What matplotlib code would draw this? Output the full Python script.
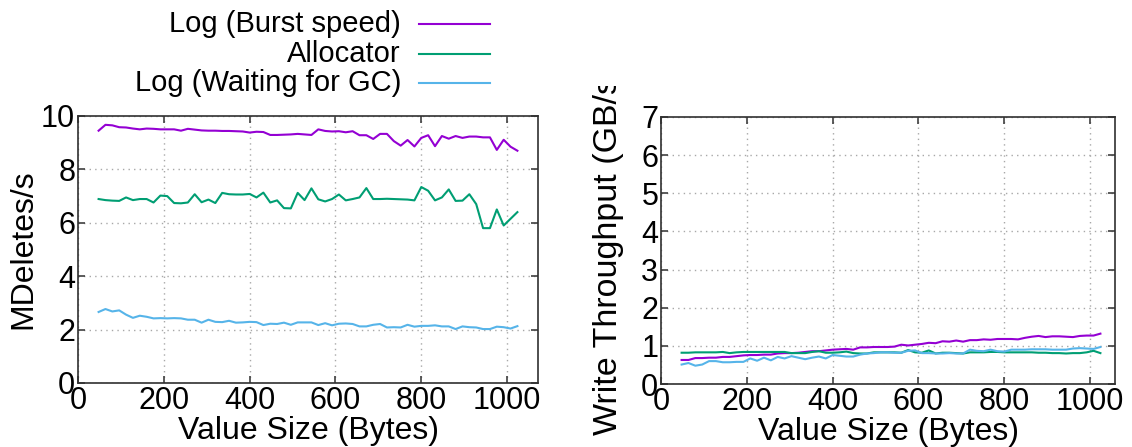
import matplotlib
matplotlib.use('Agg')
import matplotlib.pyplot as plt
from matplotlib.lines import Line2D
from matplotlib.transforms import Bbox, TransformedBbox

plt.rcParams['font.family'] = ['Liberation Sans', 'DejaVu Sans']

# value sizes in bytes
value_size = [48, 64, 80, 96, 112, 128, 144, 160, 176, 192, 208, 224, 240, 256, 272, 288,
              304, 320, 336, 352, 368, 384, 400, 416, 432, 448, 464, 480, 496, 512, 528, 544,
              560, 576, 592, 608, 624, 640, 656, 672, 688, 704, 720, 736, 752, 768, 784, 800,
              816, 832, 848, 864, 880, 896, 912, 928, 944, 960, 976, 992, 1008, 1024]

labels = ['Log (Burst speed)', 'Allocator', 'Log (Waiting for GC)']
colors = ['#9400d3', '#009e73', '#56b4e9']

# MDeletes/s
deletes_burst = [9.45, 9.67, 9.65, 9.58, 9.57, 9.53, 9.50, 9.53, 9.52, 9.50, 9.50, 9.50,
                 9.45, 9.52, 9.49, 9.46, 9.45, 9.45, 9.44, 9.44, 9.43, 9.42, 9.38, 9.41,
                 9.40, 9.29, 9.29, 9.30, 9.31, 9.33, 9.31, 9.29, 9.50, 9.44, 9.42, 9.43,
                 9.39, 9.43, 9.28, 9.28, 9.14, 9.33, 9.33, 9.06, 8.89, 9.10, 8.86, 9.18,
                 9.28, 8.87, 9.25, 9.15, 9.25, 9.18, 9.23, 9.23, 9.20, 9.20, 8.73, 9.11,
                 8.85, 8.70]
deletes_alloc = [6.89, 6.85, 6.83, 6.82, 6.95, 6.85, 6.89, 6.89, 6.76, 7.02, 7.00, 6.74,
                 6.73, 6.76, 7.07, 6.77, 6.87, 6.74, 7.12, 7.07, 7.06, 7.06, 7.08, 6.95,
                 7.13, 6.76, 6.84, 6.55, 6.54, 7.12, 6.85, 7.29, 6.88, 6.80, 6.89, 7.06,
                 6.84, 6.89, 6.95, 7.30, 6.89, 6.89, 6.90, 6.89, 6.88, 6.87, 6.84, 7.34,
                 7.20, 6.84, 6.95, 7.25, 6.82, 6.83, 7.07, 6.70, 5.80, 5.80, 6.50, 5.90,
                 6.15, 6.40]
deletes_gc = [2.66, 2.77, 2.68, 2.72, 2.56, 2.44, 2.52, 2.48, 2.42, 2.43, 2.42, 2.43,
              2.42, 2.37, 2.37, 2.26, 2.37, 2.29, 2.28, 2.33, 2.26, 2.27, 2.29, 2.28,
              2.17, 2.22, 2.21, 2.26, 2.18, 2.27, 2.27, 2.27, 2.17, 2.24, 2.16, 2.22,
              2.23, 2.21, 2.12, 2.12, 2.18, 2.21, 2.08, 2.09, 2.08, 2.18, 2.11, 2.14,
              2.14, 2.16, 2.12, 2.12, 2.02, 2.12, 2.09, 2.08, 2.02, 2.02, 2.11, 2.09,
              2.04, 2.13]

# write throughput, GB/s
write_burst = [0.63, 0.63, 0.68, 0.68, 0.69, 0.69, 0.71, 0.71, 0.73, 0.75, 0.76, 0.76,
               0.77, 0.77, 0.80, 0.81, 0.81, 0.82, 0.84, 0.86, 0.86, 0.88, 0.90, 0.91,
               0.92, 0.90, 0.96, 0.96, 0.97, 0.97, 0.97, 0.98, 1.03, 1.01, 1.03, 1.05,
               1.08, 1.07, 1.12, 1.11, 1.14, 1.11, 1.15, 1.15, 1.17, 1.16, 1.18, 1.18,
               1.18, 1.17, 1.21, 1.24, 1.26, 1.23, 1.25, 1.25, 1.24, 1.23, 1.26, 1.27,
               1.27, 1.32]
write_alloc = [0.82, 0.82, 0.83, 0.83, 0.83, 0.83, 0.84, 0.81, 0.83, 0.84, 0.84, 0.84,
               0.84, 0.84, 0.84, 0.84, 0.81, 0.81, 0.81, 0.84, 0.86, 0.82, 0.82, 0.83,
               0.85, 0.81, 0.80, 0.80, 0.83, 0.83, 0.83, 0.83, 0.82, 0.89, 0.83, 0.82,
               0.88, 0.80, 0.82, 0.82, 0.81, 0.80, 0.83, 0.83, 0.83, 0.84, 0.84, 0.83,
               0.83, 0.83, 0.83, 0.83, 0.82, 0.82, 0.81, 0.81, 0.80, 0.81, 0.81, 0.83,
               0.87, 0.81]
write_gc = [0.51, 0.55, 0.48, 0.51, 0.60, 0.60, 0.57, 0.57, 0.58, 0.58, 0.67, 0.61,
            0.69, 0.62, 0.71, 0.67, 0.73, 0.69, 0.65, 0.69, 0.72, 0.67, 0.76, 0.74,
            0.72, 0.72, 0.77, 0.80, 0.81, 0.83, 0.83, 0.82, 0.82, 0.87, 0.88, 0.81,
            0.81, 0.80, 0.80, 0.81, 0.80, 0.80, 0.90, 0.87, 0.86, 0.90, 0.86, 0.85,
            0.90, 0.90, 0.90, 0.91, 0.91, 0.91, 0.90, 0.90, 0.90, 0.93, 0.94, 0.93,
            0.92, 0.97]

fig = plt.figure(figsize=(11.32, 4.47), dpi=100)
ax1 = fig.add_axes([78 / 1132, 64 / 447, 460 / 1132, 267 / 447])
ax2 = fig.add_axes([661 / 1132, 63 / 447, 454 / 1132, 267 / 447])


def style_axes(ax, xmax, ymax, ystep):
    ax.set_xlim(0, xmax)
    ax.set_ylim(0, ymax)
    ax.set_xticks(range(0, 1001, 200))
    ax.set_yticks(range(0, ymax + 1, ystep))
    ax.grid(True, color='#a8a8a8', linestyle=(0, (1, 3)), linewidth=1.0)
    ax.tick_params(direction='in', length=5, width=1.2, top=True, right=True,
                   labelsize=22, pad=2, colors='#404040', labelcolor='black')
    for sp in ax.spines.values():
        sp.set_color('#303030')
        sp.set_linewidth(1.2)
    ax.set_xlabel('Value Size (Bytes)', fontsize=23, labelpad=0)


style_axes(ax1, 1072, 10, 2)
style_axes(ax2, 1058, 7, 1)

for ys, c in zip([deletes_burst, deletes_alloc, deletes_gc], colors):
    ax1.plot(value_size, ys, color=c, linewidth=1.5)
for ys, c in zip([write_burst, write_alloc, write_gc], colors):
    ax2.plot(value_size, ys, color=c, linewidth=1.5)

ax1.set_ylabel('MDeletes/s', fontsize=23, labelpad=2)

# the long label is cut off at the top of the right panel's region
ylab = fig.text(608 / 1132, 12 / 447, 'Write Throughput (GB/s)', rotation=90,
                ha='center', va='bottom', fontsize=24.5)
ylab.set_clip_box(TransformedBbox(Bbox([[0.5, 0.0], [1.0, 1 - 86 / 447]]),
                                  fig.transFigure))
ylab.set_clip_on(True)

# key above the left panel: right-justified text followed by a line sample
for k, (lab, c) in enumerate(zip(labels, colors)):
    yk = 1 - (24 + 29.5 * k) / 447
    fig.text(401 / 1132, yk, lab, ha='right', va='center', fontsize=21)
    fig.add_artist(Line2D([419 / 1132, 490 / 1132], [yk, yk], color=c,
                          linewidth=1.5, transform=fig.transFigure))

fig.savefig('out.png', dpi=100)
